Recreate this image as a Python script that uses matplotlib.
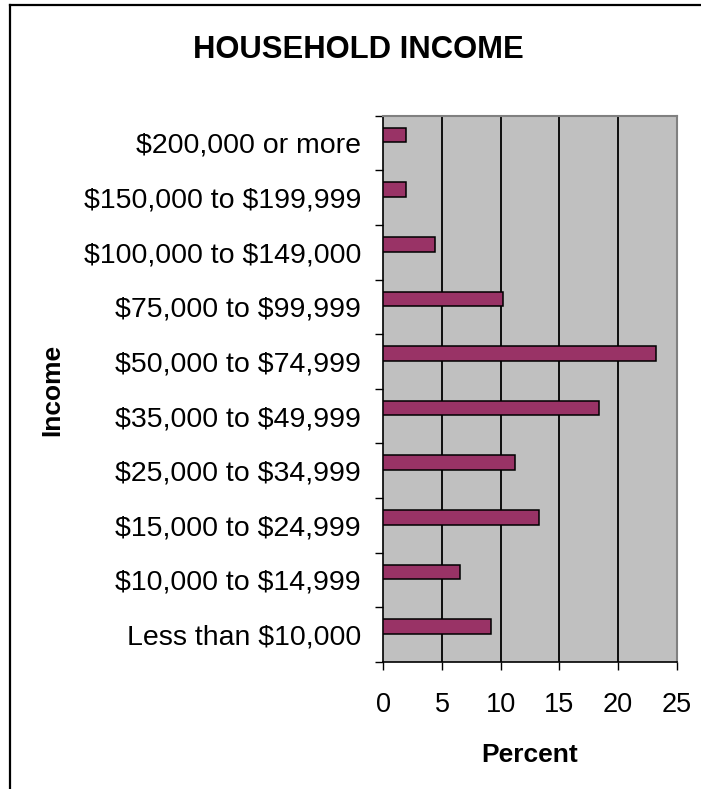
import matplotlib.pyplot as plt
from matplotlib.lines import Line2D

plt.rcParams['font.family'] = ['Liberation Sans', 'DejaVu Sans']
plt.rcParams['text.parse_math'] = False  # labels contain dollar signs

# Income brackets, bottom to top
categories = ['Less than $10,000', '$10,000 to $14,999', '$15,000 to $24,999',
              '$25,000 to $34,999', '$35,000 to $49,999', '$50,000 to $74,999',
              '$75,000 to $99,999', '$100,000 to $149,000', '$150,000 to $199,999',
              '$200,000 or more']
percent = [9.2, 6.5, 13.3, 11.2, 18.4, 23.2, 10.2, 4.4, 1.9, 1.9]
x_ticks = [0, 5, 10, 15, 20, 25]

W, H = 701, 789
fig = plt.figure(figsize=(W / 100, H / 100), dpi=100)
ax = fig.add_axes([383.3 / W, 1 - 661.7 / H, (676.7 - 383.3) / W, (661.7 - 115.7) / H])
ax.set_facecolor('#C0C0C0')

# bars sit in the upper half of each category (Excel style)
pos = [i + 0.145 for i in range(len(categories))]
ax.barh(pos, percent, height=0.27, color='#993366', edgecolor='black',
        linewidth=1.1, zorder=3)

ax.set_xlim(0, 25)
ax.set_ylim(-0.5, len(categories) - 0.5)

# vertical gridlines
for v in x_ticks[1:-1]:
    ax.axvline(v, color='black', linewidth=1.3, zorder=2)

ax.set_xticks(x_ticks)
ax.set_xticklabels([str(v) for v in x_ticks], fontsize=19.5)
ax.tick_params(axis='x', direction='out', length=5.5, width=1, pad=16)

ax.set_yticks([i - 0.5 for i in range(len(categories) + 1)])
ax.set_yticklabels([])
ax.tick_params(axis='y', which='major', direction='out', length=5.5, width=1)
ax.set_yticks(range(len(categories)), minor=True)
ax.set_yticklabels(categories, minor=True, fontsize=20.5)
ax.tick_params(axis='y', which='minor', length=0, pad=16)

ax.spines['left'].set_color('black')
ax.spines['bottom'].set_color('black')
ax.spines['left'].set_linewidth(1.2)
ax.spines['bottom'].set_linewidth(1.2)
ax.spines['top'].set_color('#808080')
ax.spines['right'].set_color('#808080')
ax.spines['top'].set_linewidth(1.5)
ax.spines['right'].set_linewidth(1.5)

fig.text(358 / W, 1 - 50 / H, 'HOUSEHOLD INCOME', fontsize=22.3, fontweight='bold',
         ha='center', va='center')
fig.text(530 / W, 1 - 755 / H, 'Percent', fontsize=19, fontweight='bold',
         ha='center', va='center')
fig.text(52 / W, 1 - 390 / H, 'Income', fontsize=19, fontweight='bold',
         ha='center', va='center', rotation=90)

# chart frame (cut off at right and bottom edge)
fig.add_artist(Line2D([9.5 / W, 9.5 / W], [-0.1, 1 - 4.5 / H], color='black',
                      linewidth=1.6, transform=fig.transFigure))
fig.add_artist(Line2D([9.5 / W, 1.1], [1 - 4.5 / H, 1 - 4.5 / H], color='black',
                      linewidth=1.6, transform=fig.transFigure))

fig.savefig('out.png', dpi=100)
